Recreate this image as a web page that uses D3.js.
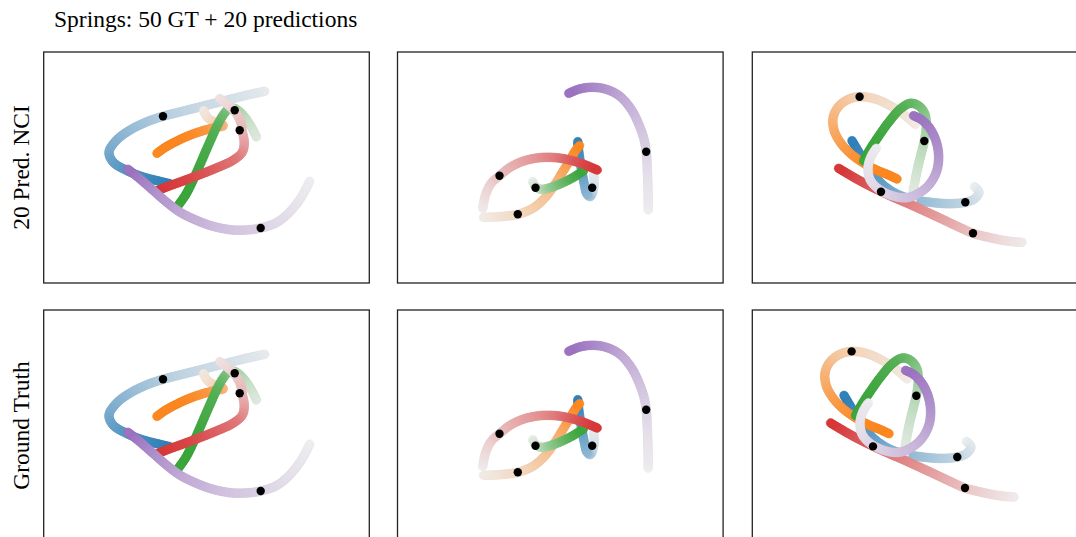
<!DOCTYPE html>
<html>
<head>
<meta charset="utf-8">
<script src="https://cdn.jsdelivr.net/npm/d3@7"></script>
<style>
  body { margin: 0; background: #fff; }
  svg { display: block; }
</style>
</head>
<body>
<svg id="chart" width="1076" height="537"></svg>
<script>
// ---- text ----
const chartTitle = "Springs: 50 GT + 20 predictions";
const rowLabels = ["20 Pred. NCI", "Ground Truth"];

// ---- particles (tab10 palette) ----
const particleColors = ["#1f77b4", "#ff7f0e", "#2ca02c", "#d62728", "#9467bd"];

// Each trajectory sample is [x, y, shade]; shade 0 = faded (early), 1 = full colour.
// ---- scene 1 ----
const scene1Blue   = [[221,191.7,0.05],[202.7,187.7,0.1],[182.7,182.7,0.15],[156,176,0.2],[136,171,0.25],[119.3,166.7,0.3],[102.7,161,0.38],[86,152.7,0.45],[72.7,142.7,0.55],[65.3,131,0.62],[69.3,121,0.7],[82.7,112.7,0.8],[99.3,106,0.88],[116,101.7,0.95],[126,99.3,1]];
const scene1Orange = [[160,172.3,0.08],[163.3,166,0.12],[169.3,161.7,0.2],[176.7,159,0.35],[180,157.3,0.5],[172.7,155.7,0.7],[159.3,152.3,0.85],[146,147.7,0.95],[132.7,141.7,1],[121,135.3,1],[113.3,129.7,1]];
const scene1Green  = [[212.7,146,0.1],[207.7,156,0.15],[201,166,0.25],[194.3,172.7,0.35],[188.7,175,0.45],[183.7,173,0.55],[178.7,166.7,0.7],[173.3,157,0.8],[168.3,146,0.88],[162,131.7,0.92],[156,117.7,0.95],[149.3,102.7,1],[142,88.3,1],[133.3,76,1]];
const scene1Red    = [[176,184.3,0.08],[184.3,178.3,0.12],[192,170.3,0.18],[196.7,161.7,0.25],[198.5,152,0.3],[200.5,141,0.4],[198.7,131,0.5],[189.3,122.7,0.65],[172.7,115,0.75],[156,108.3,0.85],[139.3,102,0.92],[122.7,96,0.97],[113.3,92,1]];
const scene1Purple = [[266,101.7,0.03],[257.7,86,0.07],[246,71,0.12],[232.7,60.3,0.17],[217,55,0.22],[206,53.3,0.28],[189.3,53,0.33],[169.3,56.7,0.4],[152.7,62.7,0.48],[136,71,0.55],[122.7,81,0.65],[109.3,92.7,0.75],[96,104.3,0.88],[84.3,113.7,1]];
const scene1Marks  = [[119.3,166.7], null, [191,172.7], [196,152.7], [217,55]];

// ---- scene 2 ----
const scene2Blue   = [[196,109,0.05],[196.7,99.7,0.1],[195.3,91.3,0.2],[192.7,86.3,0.35],[189.3,89,0.5],[187,98,0.6],[184.7,109.7,0.7],[182.7,121.3,0.8],[181,133,0.9],[180.3,141.3,1]];
const scene2Orange = [[86,65.7,0.05],[102,66.3,0.12],[120.3,68.7,0.2],[135.3,74.7,0.3],[147,84.7,0.4],[157,98,0.5],[164.7,110.3,0.65],[172,122.3,0.8],[178,132.3,0.92],[182,137.3,1]];
const scene2Green  = [[135.3,101.3,0.05],[138,96.3,0.15],[143.7,93.7,0.3],[153.7,95.7,0.5],[165.3,100.3,0.7],[177,106.3,0.9],[186,112.3,1]];
const scene2Red    = [[85.3,74.7,0.03],[88,88,0.1],[93.7,99.7,0.17],[102,107.3,0.25],[112.7,115.7,0.32],[125.3,121.7,0.4],[142,125.3,0.5],[158.7,125.3,0.62],[172,123,0.75],[185.3,119,0.88],[199.7,113,1]];
const scene2Purple = [[250.7,73,0.03],[250.7,83,0.06],[250.3,99.7,0.1],[249.7,116.3,0.15],[248.7,131.3,0.22],[246.7,143,0.28],[242,157,0.35],[233.7,173.7,0.45],[222,187,0.55],[208.7,193.7,0.68],[195.3,195.7,0.8],[182,194,0.9],[171.3,189.7,1]];
const scene2Marks  = [[194.7,95.3], [120.3,68.7], [138,95.3], [102,107.3], [248.7,131.3]];

// ---- scene 3 ----
const scene3Blue   = [[222.3,96.3,0.03],[226.7,90.7,0.08],[222,84,0.15],[213,80.7,0.22],[198,79.3,0.3],[178,80.7,0.4],[158,84,0.5],[141.3,90.7,0.6],[127.3,101.3,0.72],[116.3,116.3,0.82],[107.3,129.7,0.92],[99.7,142.3,1]];
const scene3Orange = [[163,158.7,0.05],[153,167.3,0.1],[138,177.3,0.15],[123,184,0.2],[107.3,186.3,0.27],[94.7,183,0.35],[85.3,175.3,0.45],[80.7,164.7,0.55],[82,152,0.65],[88.7,139.7,0.75],[98.7,129,0.85],[110.7,120.3,0.92],[124,113,0.97],[136.3,108,1],[144.7,104,1]];
const scene3Green  = [[159.7,83,0.05],[162,98,0.1],[165.3,114.7,0.18],[169,129.7,0.25],[172,142,0.32],[174,156.3,0.42],[172.3,169.7,0.55],[166.3,177.3,0.65],[158,179.7,0.75],[148,174,0.85],[136.3,160.7,0.92],[125.3,145.3,0.97],[117.3,133,1],[111.3,122,1]];
const scene3Red    = [[269.7,40.7,0.03],[254.7,42,0.08],[238,45.3,0.15],[220.7,49.7,0.22],[208,55.3,0.3],[188,64.7,0.42],[161.3,77,0.55],[134.7,88.7,0.7],[108,102,0.85],[86.3,114.7,1]];
const scene3Purple = [[124,134.7,0.03],[118.7,126.3,0.07],[115.7,114.7,0.1],[118,103,0.14],[126.3,94,0.2],[139.7,87.3,0.27],[154.7,85.3,0.35],[168,90.7,0.42],[178,99.7,0.5],[184.7,113,0.6],[186.3,128,0.7],[183.7,142,0.78],[178,154,0.86],[169.7,163,0.94],[161.3,167.3,1]];
const scene3Marks  = [[213,80.7], [107.3,186.3], [172,142], [220.7,49.7], [128.7,91.3]];

// axis limits per row (prediction, ground truth) and scene
const xLimits = [
  [[0, 325.6], [0, 325.6], [0, 325.6]],
  [[0, 325.6], [0, 325.6], [8, 333.6]]
];
const yLimits = [
  [[0, 231], [0, 231], [0, 231]],
  [[5, 236], [0, 231], [-3.3, 227.7]]
];

const scenes = [
  { tracks: [scene1Blue, scene1Orange, scene1Green, scene1Red, scene1Purple], marks: scene1Marks },
  { tracks: [scene2Blue, scene2Orange, scene2Green, scene2Red, scene2Purple], marks: scene2Marks },
  { tracks: [scene3Blue, scene3Orange, scene3Green, scene3Red, scene3Purple], marks: scene3Marks }
];

// ---- layout ----
const panelW = 325.6, panelH = 231;
const colLeft = [43.7, 397.5, 752.3];
const rowTop = [52, 310];
const serif = "'Liberation Serif', 'Times New Roman', serif";

const svg = d3.select("#chart");
const defs = svg.append("defs");

svg.append("text")
  .attr("x", 54).attr("y", 27)
  .attr("font-family", serif).attr("font-size", 23.5)
  .attr("fill", "#000")
  .text(chartTitle);

rowLabels.forEach((label, r) => {
  svg.append("text")
    .attr("transform", `translate(29,${rowTop[r] + panelH / 2}) rotate(-90)`)
    .attr("text-anchor", "middle")
    .attr("font-family", serif).attr("font-size", 23.5)
    .attr("fill", "#000")
    .text(label);
});

// Place each trajectory vertex on the sampled curve (walking forward along it).
function anchorIndices(track, samples, x, y) {
  const anchors = [];
  let from = 0;
  track.forEach(d => {
    const vx = x(d[0]), vy = y(d[1]);
    let hit = -1, best = from, bestD = Infinity;
    for (let i = from; i < samples.length; i++) {
      const dd = Math.hypot(samples[i].px - vx, samples[i].py - vy);
      if (dd < bestD) { bestD = dd; best = i; }
      if (dd < 1.2) { hit = i; break; }
    }
    let idx = hit >= 0 ? hit : best;
    if (anchors.length && idx <= anchors[anchors.length - 1]) idx = anchors[anchors.length - 1] + 1;
    anchors.push(idx);
    from = idx;
  });
  return anchors;
}

rowTop.forEach((top, r) => {
  scenes.forEach((scene, c) => {
    const left = colLeft[c];
    const x = d3.scaleLinear().domain(xLimits[r][c]).range([left, left + panelW]);
    const y = d3.scaleLinear().domain(yLimits[r][c]).range([top + panelH, top]);

    const clipId = `clip-${r}-${c}`;
    defs.append("clipPath").attr("id", clipId)
      .append("rect").attr("x", left).attr("y", top).attr("width", panelW).attr("height", panelH);

    const g = svg.append("g").attr("clip-path", `url(#${clipId})`);
    const line = d3.line()
      .x(d => x(d[0])).y(d => y(d[1]))
      .curve(d3.curveCatmullRom.alpha(0.5));

    scene.tracks.forEach((track, k) => {
      const guide = g.append("path").attr("d", line(track)).attr("fill", "none").attr("stroke", "none");
      const node = guide.node();
      const len = node.getTotalLength();
      const n = Math.max(2, Math.round(len / 1.8));
      const samples = d3.range(n + 1).map(i => {
        const p = node.getPointAtLength(len * i / n);
        return { px: p.x, py: p.y, i };
      });
      guide.remove();

      const anchors = anchorIndices(track, samples, x, y);
      const shadeAt = d3.scaleLinear().domain(anchors).range(track.map(d => d[2])).clamp(true);
      // full-colour end is drawn slightly softened, as by marker transparency
      const ramp = d3.interpolateRgb("#f3f3f3", particleColors[k]);
      const tone = s => ramp(0.92 * s);

      g.append("g").selectAll("circle")
        .data(samples)
        .join("circle")
        .attr("cx", d => d.px)
        .attr("cy", d => d.py)
        .attr("r", 4.4)
        .attr("fill", d => tone(shadeAt(d.i)))
        .attr("stroke", d => d3.color(tone(shadeAt(d.i))).darker(0.12))
        .attr("stroke-width", 0.5);
    });

    g.append("g").selectAll("circle")
      .data(scene.marks.filter(m => m))
      .join("circle")
      .attr("cx", d => x(d[0]))
      .attr("cy", d => y(d[1]))
      .attr("r", 4.2)
      .attr("fill", "#000");

    svg.append("rect")
      .attr("x", left).attr("y", top)
      .attr("width", panelW).attr("height", panelH)
      .attr("fill", "none")
      .attr("stroke", "#222")
      .attr("stroke-width", 1.3);
  });
});
</script>
</body>
</html>
